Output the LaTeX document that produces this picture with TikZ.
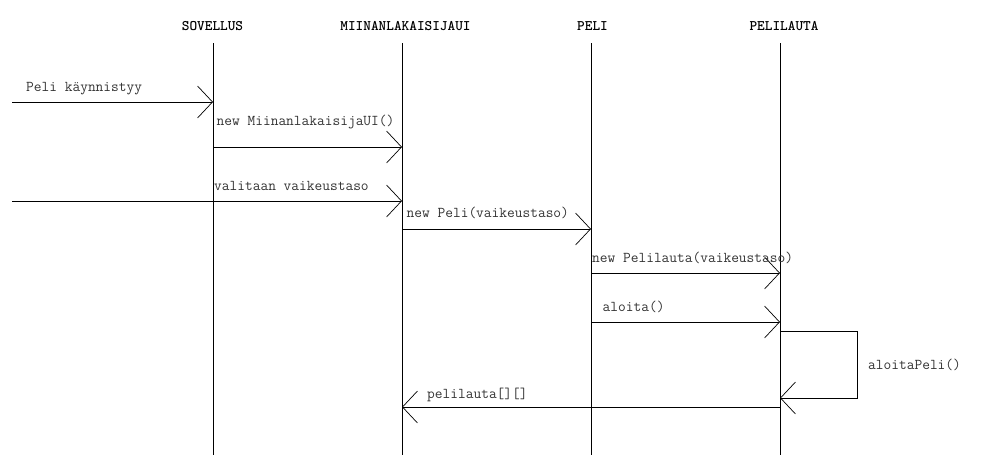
\documentclass[tikz,border=0pt]{standalone}
\usetikzlibrary{arrows.meta}
\tikzset{
  head/.style={font=\ttfamily\bfseries\fontsize{14.6}{16}\selectfont, inner sep=0pt, anchor=base},
  lbl/.style={font=\ttfamily\fontsize{15}{17}\selectfont, inner sep=0pt, anchor=base west, text=black!80},
  life/.style={line width=0.9pt},
  msg/.style={line width=0.9pt, -{Straight Barb[length=15pt,width=32pt,line width=0.7pt]}},
}
\begin{document}
\begin{tikzpicture}[x=1pt,y=-1pt]
\useasboundingbox (0,0) rectangle (985,455);
% headers
\node[head] (hS) at (212.5,30) {SOVELLUS};
\node[head] (hM) at (405.5,30) {MIINANLAKAISIJAUI};
\node[head] (hP) at (592.5,30) {PELI};
\node[head] (hL) at (784,30) {PELILAUTA};
% lifelines
\coordinate (tS) at (213,43); \coordinate (bS) at (213,455);
\coordinate (tM) at (402,43); \coordinate (bM) at (402,455);
\coordinate (tP) at (591,43); \coordinate (bP) at (591,455);
\coordinate (tL) at (780,43); \coordinate (bL) at (780,455);
\draw[life] (tS) -- (bS);
\draw[life] (tM) -- (bM);
\draw[life] (tP) -- (bP);
\draw[life] (tL) -- (bL);
% message points
\coordinate (a1) at (12,102);   \coordinate (s1) at (213,102);
\coordinate (s2) at (213,147);  \coordinate (m2) at (402,147);
\coordinate (a3) at (12,201);   \coordinate (m3) at (402,201);
\coordinate (m4) at (402,229);  \coordinate (p4) at (591,229);
\coordinate (p5) at (591,273);  \coordinate (l5) at (780,273);
\coordinate (p6) at (591,322);  \coordinate (l6) at (780,322);
\coordinate (l7a) at (780,331); \coordinate (l7b) at (780,398);
\coordinate (r7) at (857,331);
\coordinate (l8) at (780,407);  \coordinate (m8) at (402,407);
% messages
\draw[msg] (a1) -- (s1);
\draw[msg] (s2) -- (m2);
\draw[msg] (a3) -- (m3);
\draw[msg] (m4) -- (p4);
\draw[msg] (p5) -- (l5);
\draw[msg] (p6) -- (l6);
\draw[msg] (l7a) -- (r7) |- (l7b);
\draw[msg] (l8) -- (m8);
% labels
\node[lbl] (t1) at (26,91.5) {Peli käynnistyy};
\node[lbl] (t2) at (216.5,125) {new MiinanlakaisijaUI()};
\node[lbl] (t3) at (214,190.5) {valitaan vaikeustaso};
\node[lbl] (t4) at (406.5,217.3) {new Peli(vaikeustaso)};
\node[lbl] (t5) at (592,262.5) {new Pelilauta(vaikeustaso)};
\node[lbl] (t6) at (602.5,311.5) {aloita()};
\node[lbl] (t7) at (868,369) {aloitaPeli()};
\node[lbl] (t8) at (427,398.3) {pelilauta[][]};
\end{tikzpicture}
\end{document}
